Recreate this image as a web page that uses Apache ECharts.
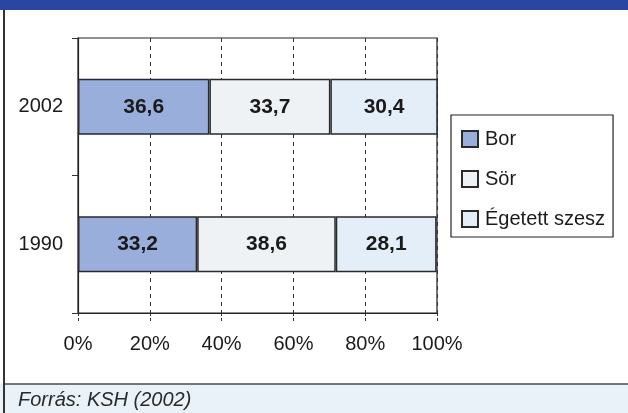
<!DOCTYPE html>
<html>
<head>
<meta charset="utf-8">
<script src="https://cdn.jsdelivr.net/npm/echarts@6/dist/echarts.min.js"></script>
<style>
  html, body { margin: 0; padding: 0; background: #fff; }
  #chart { width: 628px; height: 413px; }
</style>
</head>
<body>
<div id="chart"></div>
<script>
// Alkoholfogyasztás összetétele (%)
const years = ['1990', '2002'];
const seriesNames = ['Bor', 'Sör', 'Égetett szesz'];
const bor = [33.2, 36.6];
const sor = [38.6, 33.7];
const szesz = [28.1, 30.4];
const xTicks = [0, 20, 40, 60, 80, 100];
const source = 'Forrás: KSH (2002)';

const colors = ['#9aaedc', '#eef2f5', '#e3eef8'];
const values = [bor, sor, szesz];
const font = 'Liberation Sans, Arial, sans-serif';

const chart = echarts.init(document.getElementById('chart'), null, { renderer: 'canvas' });

const series = seriesNames.map((name, i) => ({
  name,
  type: 'bar',
  stack: 'total',
  barWidth: 56,
  data: values[i],
  itemStyle: { color: colors[i], borderColor: '#2a2a2a', borderWidth: 1.5 },
  label: {
    show: true,
    position: 'inside',
    fontFamily: font,
    fontSize: 21,
    fontWeight: 'bold',
    color: '#1a1a1a',
    formatter: p => String(p.value).replace('.', ',')
  }
}));

chart.setOption({
  animation: false,
  backgroundColor: '#ffffff',
  grid: {
    left: 78, right: 191, top: 38, height: 275,
    show: true, borderColor: '#222', borderWidth: 1.2, backgroundColor: 'transparent'
  },
  xAxis: {
    type: 'value',
    min: xTicks[0],
    max: xTicks[xTicks.length - 1],
    interval: 20,
    axisLine: { show: true, lineStyle: { color: '#222', width: 1.2 } },
    axisTick: { show: true, length: 8, lineStyle: { color: '#333', width: 1, type: [3, 2] } },
    axisLabel: {
      margin: 21, fontFamily: font, fontSize: 20, color: '#1a1a1a',
      formatter: '{value}%'
    },
    splitLine: { show: true, lineStyle: { color: '#333', width: 1, type: [4, 4] } }
  },
  yAxis: {
    type: 'category',
    data: years,
    axisLine: { show: true, lineStyle: { color: '#222', width: 1.2 } },
    axisTick: { show: true, length: 6, lineStyle: { color: '#333' } },
    axisLabel: { margin: 15, fontFamily: font, fontSize: 20, color: '#1a1a1a' },
    splitLine: { show: false }
  },
  legend: {
    orient: 'vertical',
    left: 451,
    top: 115,
    data: seriesNames,
    icon: 'rect',
    itemWidth: 16,
    itemHeight: 16,
    itemGap: 20,
    padding: [14, 8, 8, 10],
    borderColor: '#222',
    borderWidth: 1.2,
    textStyle: { fontFamily: font, fontSize: 20, color: '#1a1a1a', padding: [0, 0, 0, 2] }
  },
  graphic: [
    { type: 'rect', shape: { x: 0, y: 0, width: 628, height: 10 }, style: { fill: '#2b45a3' }, z: 10 },
    { type: 'rect', shape: { x: 0, y: 384, width: 628, height: 29 }, style: { fill: '#e9f2f8' }, z: 1 },
    { type: 'line', shape: { x1: 4, y1: 384, x2: 628, y2: 384 }, style: { stroke: '#4a4a4a', lineWidth: 1.5 }, z: 10 },
    { type: 'line', shape: { x1: 4, y1: 10, x2: 4, y2: 413 }, style: { stroke: '#333', lineWidth: 2 }, z: 10 },
    {
      type: 'text', left: 18, top: 390, z: 10,
      style: { text: source, fontFamily: font, fontSize: 20, fontStyle: 'italic', fill: '#2a2a2a' }
    }
  ],
  series
});
</script>
</body>
</html>
